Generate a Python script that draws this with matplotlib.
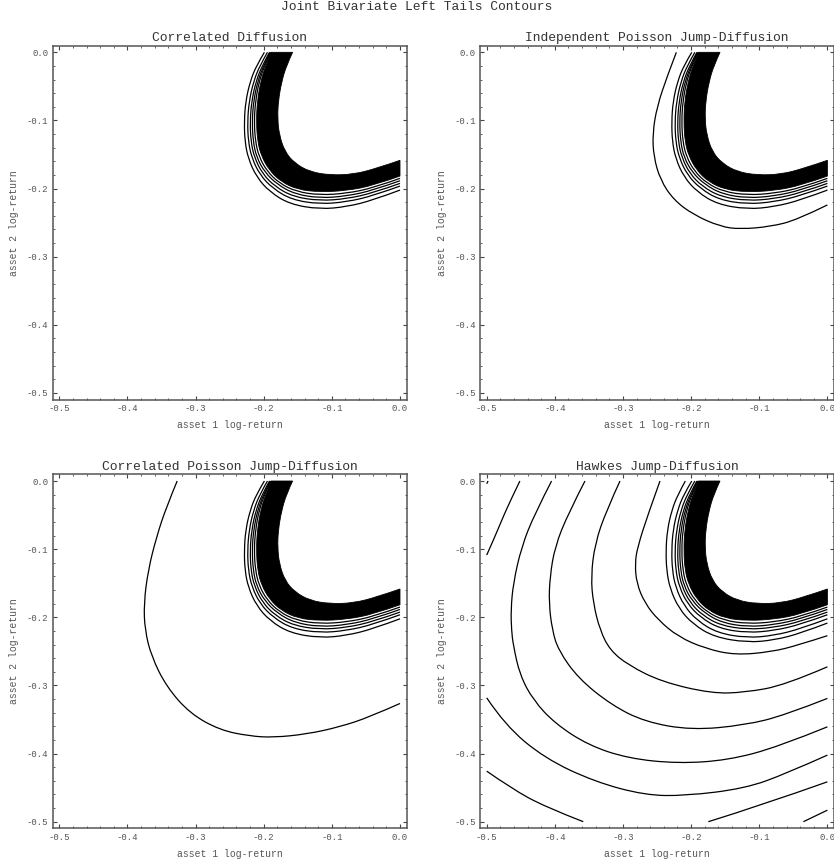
import numpy as np
import matplotlib
matplotlib.use('Agg')
import matplotlib.pyplot as plt
from matplotlib.path import Path
from matplotlib.patches import PathPatch

suptitle = 'Joint Bivariate Left Tails Contours'
titles = ['Correlated Diffusion', 'Independent Poisson Jump-Diffusion',
          'Correlated Poisson Jump-Diffusion', 'Hawkes Jump-Diffusion']
tick_vals = [-0.5, -0.4, -0.3, -0.2, -0.1, 0.0]
tick_labels = ['-0.5', '-0.4', '-0.3', '-0.2', '-0.1', '0.0']

# contour lines, points are (asset 1, asset 2) log-returns
# dense band near the origin, the same in every panel
band_inner = [(-0.1576, 0.0), (-0.1664, -0.019), (-0.1737, -0.043), (-0.1787, -0.0725),
              (-0.1796, -0.097), (-0.1772, -0.121), (-0.1689, -0.146), (-0.1542, -0.163),
              (-0.1322, -0.1753), (-0.1028, -0.1802), (-0.0686, -0.1791), (-0.0342, -0.1703),
              (0.0, -0.1585)]
band_solid = [(-0.189, 0.0), (-0.197, -0.019), (-0.2045, -0.043), (-0.2095, -0.0725),
              (-0.2108, -0.102), (-0.2090, -0.131), (-0.2035, -0.152), (-0.1920, -0.173),
              (-0.1745, -0.190), (-0.1500, -0.2015), (-0.1175, -0.2050), (-0.0783, -0.2030),
              (-0.0392, -0.1955), (0.0, -0.1816)]
band_l1 = [(-0.199, 0.0), (-0.2105, -0.019), (-0.220, -0.043), (-0.2266, -0.0725),
           (-0.2286, -0.102), (-0.2276, -0.131), (-0.2227, -0.156), (-0.2105, -0.183),
           (-0.191, -0.205), (-0.1615, -0.223), (-0.1175, -0.2303), (-0.0783, -0.2267),
           (-0.0392, -0.2169), (0.0, -0.2022)]
band_l2 = [(-0.1945, 0.0), (-0.2055, -0.019), (-0.2150, -0.043), (-0.2215, -0.0725),
           (-0.2238, -0.102), (-0.2226, -0.131), (-0.2175, -0.155), (-0.2055, -0.180),
           (-0.1865, -0.200), (-0.1585, -0.2165), (-0.1175, -0.2228), (-0.0783, -0.2195),
           (-0.0392, -0.2105), (0.0, -0.1963)]
band_l3 = [(-0.1915, 0.0), (-0.2020, -0.019), (-0.2115, -0.043), (-0.2178, -0.0725),
           (-0.2200, -0.102), (-0.2188, -0.131), (-0.2138, -0.154), (-0.2020, -0.178),
           (-0.1835, -0.197), (-0.1565, -0.212), (-0.1175, -0.2179), (-0.0783, -0.2150),
           (-0.0392, -0.2063), (0.0, -0.1924)]
band_l4 = [(-0.1905, 0.0), (-0.2000, -0.019), (-0.2090, -0.043), (-0.2150, -0.0725),
           (-0.2170, -0.102), (-0.2155, -0.131), (-0.2105, -0.154), (-0.1985, -0.176),
           (-0.1800, -0.194), (-0.1545, -0.208), (-0.1175, -0.2140), (-0.0783, -0.2110),
           (-0.0392, -0.2025), (0.0, -0.1885)]
band_l5 = [(-0.1898, 0.0), (-0.1985, -0.019), (-0.2068, -0.043), (-0.2122, -0.0725),
           (-0.2140, -0.102), (-0.2122, -0.131), (-0.2070, -0.153), (-0.1952, -0.1745),
           (-0.1772, -0.192), (-0.1522, -0.2045), (-0.1175, -0.2095), (-0.0783, -0.2070),
           (-0.0392, -0.1990), (0.0, -0.1850)]
band_lines = [band_l1, band_l2, band_l3, band_l4, band_l5]

# extra contours, one list per panel
ipj_lines = [
    [(-0.2217, 0.0), (-0.2353, -0.0355), (-0.250, -0.0796), (-0.2565, -0.1187),
     (-0.255, -0.153), (-0.2452, -0.1872), (-0.2257, -0.2166), (-0.1963, -0.2386),
     (-0.157, -0.2558), (-0.1278, -0.2596), (-0.0837, -0.2558), (-0.0445, -0.246),
     (0.0, -0.224)],
]
cpj_lines = [
    [(-0.327, 0.0), (-0.3427, -0.0377), (-0.3573, -0.0818), (-0.3696, -0.1307),
     (-0.3759, -0.1796), (-0.3744, -0.2188), (-0.3646, -0.258), (-0.3426, -0.302),
     (-0.3084, -0.3411), (-0.2643, -0.3656), (-0.2203, -0.3744), (-0.186, -0.3764),
     (-0.137, -0.3715), (-0.0881, -0.3608), (-0.044, -0.3461), (0.0, -0.3265)],
]
hawkes_lines = [
    [(-0.2085, 0.0), (-0.2190, -0.019), (-0.2285, -0.043), (-0.2350, -0.0725),
     (-0.2370, -0.102), (-0.2360, -0.131), (-0.2310, -0.158), (-0.2180, -0.187),
     (-0.1975, -0.210), (-0.1660, -0.229), (-0.1175, -0.2370), (-0.0783, -0.2335),
     (-0.0392, -0.2235), (0.0, -0.2085)],
    [(-0.2457, 0.0), (-0.2628, -0.0475), (-0.2785, -0.0964), (-0.2824, -0.1209),
     (-0.28, -0.1503), (-0.2677, -0.1796), (-0.2482, -0.2041), (-0.2188, -0.2286),
     (-0.1796, -0.2457), (-0.1356, -0.2555), (-0.0818, -0.2507), (-0.0426, -0.2408),
     (0.0, -0.227)],
    [(-0.3044, 0.0), (-0.324, -0.0426), (-0.3411, -0.0915), (-0.347, -0.1405),
     (-0.3436, -0.1796), (-0.3338, -0.2188), (-0.3191, -0.2482), (-0.2922, -0.2702),
     (-0.2433, -0.2947), (-0.1699, -0.3118), (-0.1209, -0.3103), (-0.0621, -0.2996),
     (0.0, -0.2727)],
    [(-0.3558, 0.0), (-0.3803, -0.0475), (-0.3999, -0.0964), (-0.4072, -0.1405),
     (-0.4087, -0.1796), (-0.4038, -0.2188), (-0.395, -0.248), (-0.3656, -0.2897),
     (-0.3167, -0.3289), (-0.2677, -0.3535), (-0.1993, -0.3656), (-0.1209, -0.3583),
     (-0.0621, -0.3436), (0.0, -0.3191)],
    [(-0.4048, 0.0), (-0.4293, -0.0475), (-0.4489, -0.0964), (-0.4611, -0.1503),
     (-0.4645, -0.1894), (-0.4636, -0.2188), (-0.4611, -0.2408), (-0.4513, -0.2849),
     (-0.4317, -0.3216), (-0.3999, -0.3558), (-0.351, -0.3877), (-0.2922, -0.4072),
     (-0.2188, -0.4146), (-0.1454, -0.4097), (-0.072, -0.3901), (0.0, -0.3608)],
    [(-0.4513, 0.0), (-0.4636, -0.0254), (-0.4758, -0.0524), (-0.488, -0.0818),
     (-0.5, -0.1087)],
    [(-0.5, -0.3182), (-0.4733, -0.3583), (-0.4145, -0.4072), (-0.3411, -0.4415),
     (-0.2677, -0.4611), (-0.209, -0.4621), (-0.1209, -0.4513), (-0.0600, -0.4292),
     (0.0, -0.4023)],
    [(-0.5, -0.4258), (-0.4636, -0.4513), (-0.4145, -0.4782), (-0.3583, -0.5)],
    [(-0.1747, -0.5), (-0.0965, -0.4758), (0.0, -0.4415)],
    [(-0.0352, -0.5), (0.0, -0.4831)],
    [(-0.5, -0.004), (-0.498, 0.0)],
]
panel_lines = [[], ipj_lines, cpj_lines, hawkes_lines]

plt.rcParams['font.family'] = ['Liberation Mono', 'DejaVu Sans']
plt.rcParams['axes.unicode_minus'] = False


def smooth(pts):
    # quadratic bezier through the midpoints, the read points act as controls
    p = np.array(pts, dtype=float)
    if len(p) < 3:
        return list(p), [Path.MOVETO] + [Path.LINETO] * (len(p) - 1)
    verts = [p[0]]
    codes = [Path.MOVETO]
    for i in range(1, len(p) - 2):
        verts += [p[i], (p[i] + p[i + 1]) / 2]
        codes += [Path.CURVE3, Path.CURVE3]
    verts += [p[-2], p[-1]]
    codes += [Path.CURVE3, Path.CURVE3]
    return verts, codes


def draw_curve(ax, pts, lw=0.9):
    v, c = smooth(pts)
    ax.add_patch(PathPatch(Path(v, c), fc='none', ec='black', lw=lw, capstyle='butt'))


fig = plt.figure(figsize=(8.34, 8.63), dpi=100)
fig.text(0.5, 0.9915, suptitle, ha='center', va='center', fontsize=9.4, color='#333333')

w, h = 354.3 / 834, 354.3 / 863
positions = [(0.06295, 0.53673), (0.57542, 0.53673), (0.06295, 0.03998), (0.57542, 0.03998)]

for k in range(4):
    ax = fig.add_axes([positions[k][0], positions[k][1], w, h])
    # dense band: fill between its solid edge and inner edge
    v1, c1 = smooth(band_solid)
    v2, c2 = smooth(band_inner[::-1])
    c2 = [Path.LINETO] + c2[1:]
    band = Path(v1 + v2 + [v1[0]], c1 + c2 + [Path.CLOSEPOLY])
    ax.add_patch(PathPatch(band, fc='black', ec='black', lw=0.6))
    for c in band_lines:
        draw_curve(ax, c)
    for c in panel_lines[k]:
        draw_curve(ax, c)

    ax.set_xlim(-0.51, 0.01)
    ax.set_ylim(-0.51, 0.01)
    ax.set_xticks(tick_vals)
    ax.set_xticklabels(tick_labels)
    ax.set_yticks(tick_vals)
    ax.set_yticklabels(tick_labels)
    ax.set_xticks(np.round(np.arange(-0.5, 0.001, 0.02), 2), minor=True)
    ax.set_yticks(np.round(np.arange(-0.5, 0.001, 0.02), 2), minor=True)
    ax.tick_params(which='both', direction='in', top=True, right=True,
                   color='#444444', labelcolor='#555555', labelsize=6.5, pad=3)
    ax.tick_params(which='major', length=2.8, width=0.8)
    ax.tick_params(which='minor', length=1.5, width=0.6)
    for s in ax.spines.values():
        s.set_color('#555555')
        s.set_linewidth(1.1)
    ax.text(0.5, 1.021, titles[k], transform=ax.transAxes, ha='center', va='center',
            fontsize=9.4, color='#333333')
    ax.set_xlabel('asset 1 log-return', fontsize=7, color='#555555', labelpad=5)
    ax.set_ylabel('asset 2 log-return', fontsize=7, color='#555555', labelpad=5.5)

fig.savefig('out.png', dpi=100)
